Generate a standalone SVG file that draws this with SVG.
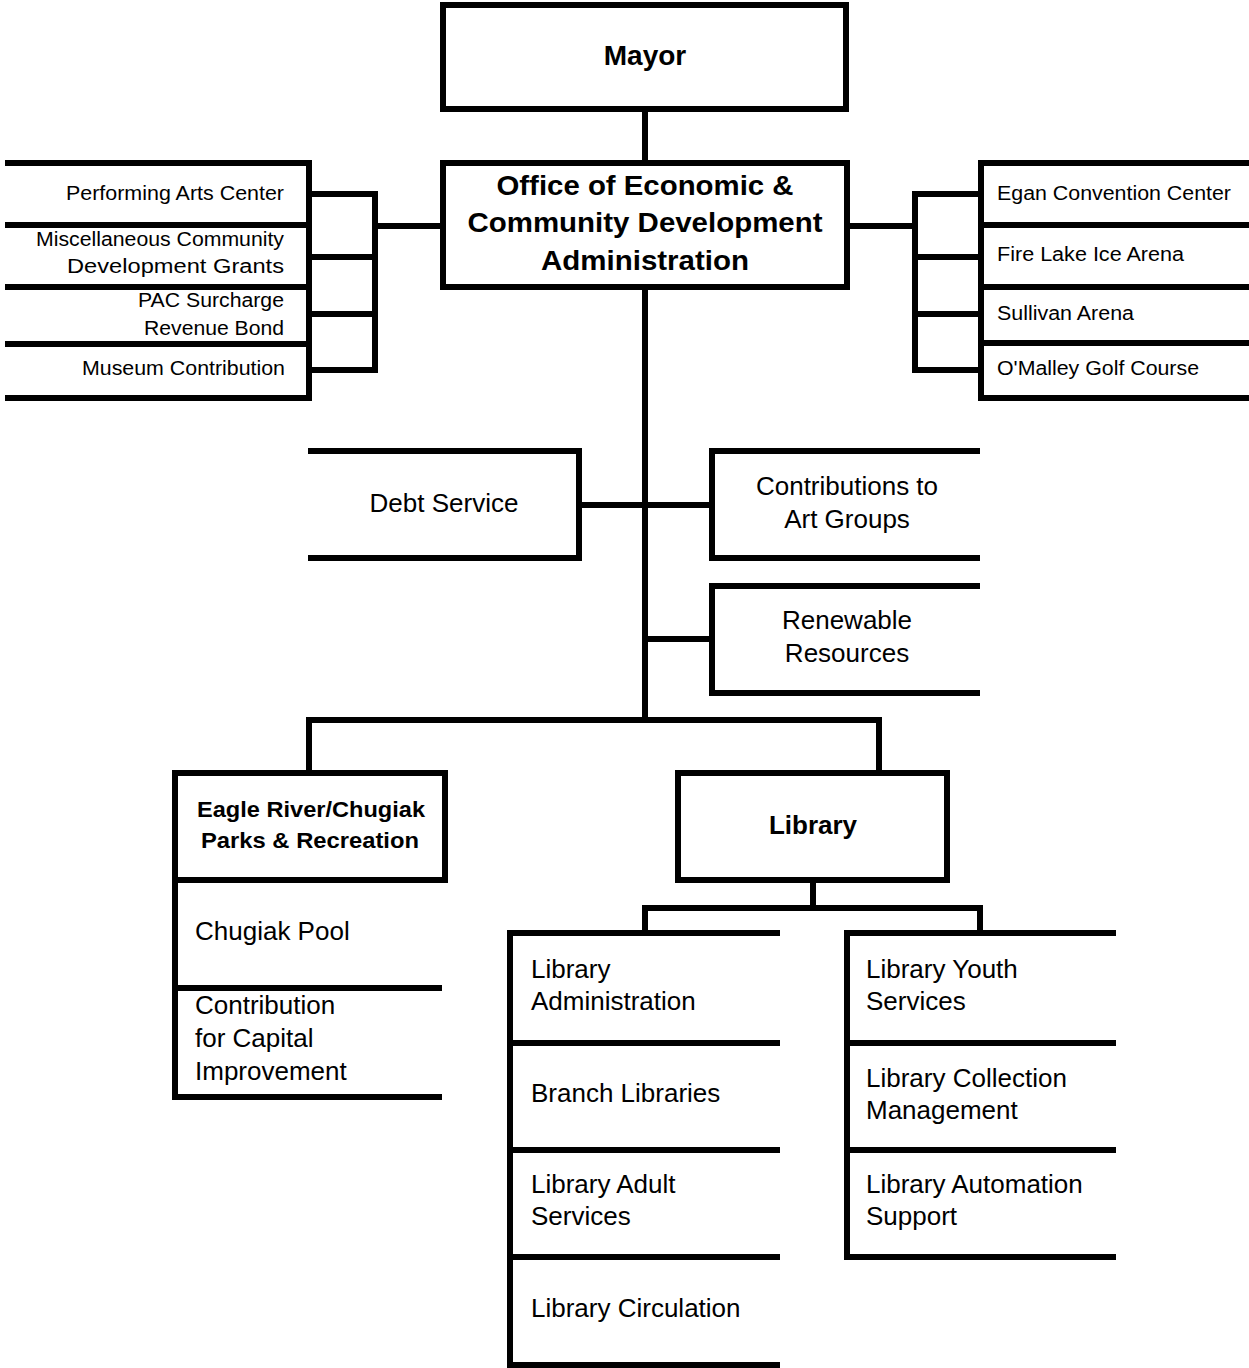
<svg xmlns="http://www.w3.org/2000/svg" width="1249" height="1368" viewBox="0 0 1249 1368">
<style>
.ln{fill:none;stroke:#000;stroke-width:6;stroke-linecap:butt;stroke-linejoin:miter}
.bx{fill:#fff;stroke:#000;stroke-width:6}
text{font-family:"Liberation Sans",Arial,Helvetica,sans-serif;fill:#000}
.b{font-weight:bold}
.t26{font-size:26px}
.s{font-size:20px}
.m{text-anchor:middle}
.e{text-anchor:end}
</style>
<rect width="1249" height="1368" fill="#fff"/>
<g id="connectors" class="ln">
<path d="M645 109V163"/>
<path d="M645 287V720"/>
<path d="M375 226H443"/>
<path d="M309 194H375V370H309M309 257H375M309 314H375"/>
<path d="M847 226H915"/>
<path d="M981 194H915V370H981M915 257H981M915 314H981"/>
<path d="M579 505H712"/>
<path d="M645 639H712"/>
<path d="M309 773V720H879V773"/>
<path d="M813 880V908"/>
<path d="M645 933V908H980V933"/>
</g>
<g id="mayor">
<rect class="bx" x="443" y="5" width="403" height="104"/>
<text class="b m" x="645" y="65" font-size="28">Mayor</text>
</g>
<g id="office">
<rect class="bx" x="443" y="163" width="404" height="124"/>
<text class="b m" x="645" y="195" font-size="28" textLength="297" lengthAdjust="spacingAndGlyphs">Office of Economic &amp;</text>
<text class="b m" x="645" y="232" font-size="28" textLength="355" lengthAdjust="spacingAndGlyphs">Community Development</text>
<text class="b m" x="645" y="270" font-size="28" textLength="208" lengthAdjust="spacingAndGlyphs">Administration</text>
</g>
<g id="left-list">
<path class="ln" d="M5 163H309V398H5M5 225H309M5 287H309M5 344H309"/>
<text class="s e" x="284" y="200" textLength="218" lengthAdjust="spacingAndGlyphs">Performing Arts Center</text>
<text class="s e" x="284" y="246" textLength="248" lengthAdjust="spacingAndGlyphs">Miscellaneous Community</text>
<text class="s e" x="284" y="273" textLength="217" lengthAdjust="spacingAndGlyphs">Development Grants</text>
<text class="s e" x="284" y="307" textLength="146" lengthAdjust="spacingAndGlyphs">PAC Surcharge</text>
<text class="s e" x="284" y="335" textLength="140" lengthAdjust="spacingAndGlyphs">Revenue Bond</text>
<text class="s e" x="285" y="375" textLength="203" lengthAdjust="spacingAndGlyphs">Museum Contribution</text>
</g>
<g id="right-list">
<path class="ln" d="M1249 163H981V398H1249M981 225H1249M981 287H1249M981 343H1249"/>
<text class="s" x="997" y="200" textLength="234" lengthAdjust="spacingAndGlyphs">Egan Convention Center</text>
<text class="s" x="997" y="261" textLength="187" lengthAdjust="spacingAndGlyphs">Fire Lake Ice Arena</text>
<text class="s" x="997" y="320" textLength="137" lengthAdjust="spacingAndGlyphs">Sullivan Arena</text>
<text class="s" x="997" y="375" textLength="202" lengthAdjust="spacingAndGlyphs">O'Malley Golf Course</text>
</g>
<g id="debt-service">
<path class="ln" d="M308 451H579V558H308"/>
<text class="t26 m" x="444" y="512">Debt Service</text>
</g>
<g id="art-groups">
<path class="ln" d="M980 451H712V558H980"/>
<text class="t26 m" x="847" y="495">Contributions to</text>
<text class="t26 m" x="847" y="528">Art Groups</text>
</g>
<g id="renewable">
<path class="ln" d="M980 586H712V693H980"/>
<text class="t26 m" x="847" y="629">Renewable</text>
<text class="t26 m" x="847" y="662">Resources</text>
</g>
<g id="eagle-river">
<rect class="bx" x="175" y="773" width="270" height="107"/>
<path class="ln" d="M175 880V1097H442M175 988H442"/>
<text class="b m" x="311" y="817" font-size="22" textLength="228" lengthAdjust="spacingAndGlyphs">Eagle River/Chugiak</text>
<text class="b m" x="310" y="848" font-size="22" textLength="218" lengthAdjust="spacingAndGlyphs">Parks &amp; Recreation</text>
<text class="t26" x="195" y="940">Chugiak Pool</text>
<text class="t26" x="195" y="1014">Contribution</text>
<text class="t26" x="195" y="1047">for Capital</text>
<text class="t26" x="195" y="1080">Improvement</text>
</g>
<g id="library">
<rect class="bx" x="678" y="773" width="269" height="107"/>
<text class="b m" x="813" y="834" font-size="26">Library</text>
</g>
<g id="library-left">
<path class="ln" d="M780 933H510V1365H780M510 1043H780M510 1150H780M510 1257H780"/>
<text class="t26" x="531" y="978">Library</text>
<text class="t26" x="531" y="1010">Administration</text>
<text class="t26" x="531" y="1102">Branch Libraries</text>
<text class="t26" x="531" y="1193">Library Adult</text>
<text class="t26" x="531" y="1225">Services</text>
<text class="t26" x="531" y="1317">Library Circulation</text>
</g>
<g id="library-right">
<path class="ln" d="M1116 933H847V1257H1116M847 1043H1116M847 1150H1116"/>
<text class="t26" x="866" y="978">Library Youth</text>
<text class="t26" x="866" y="1010">Services</text>
<text class="t26" x="866" y="1087">Library Collection</text>
<text class="t26" x="866" y="1119">Management</text>
<text class="t26" x="866" y="1193">Library Automation</text>
<text class="t26" x="866" y="1225">Support</text>
</g>
</svg>
